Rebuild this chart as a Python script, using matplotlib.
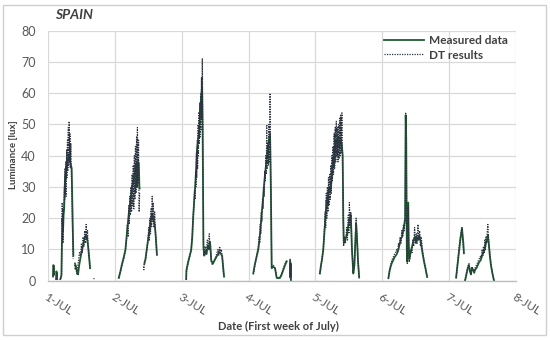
import numpy as np
import matplotlib.pyplot as plt
from matplotlib.patches import Rectangle

# hours since 1-JUL 00:00, luminance in lux (None = gap)
measured = [
    # 1-JUL
    (1.8, 1.5), (1.9, 5), (2.1, 4.8), (2.2, 2), (2.5, None),
    (2.9, 0.5), (3.0, 3), (3.2, 2.5), (3.3, 0.5), (3.8, None),
    (4.4, 0.5), (4.8, 1.5), (5.0, 12), (5.2, 20), (5.4, 16), (5.6, 21), (5.8, 23),
    (6.1, 33), (6.4, 35), (6.8, 36), (7.1, 38), (7.4, 40), (7.8, 39), (8.2, 37),
    (8.5, 36), (8.8, 22), (9.1, 8), (9.4, None),
    (9.7, 5.5), (10.1, 4), (10.5, 3), (10.8, 2), (11.2, 5), (11.6, 7), (12.0, 9),
    (12.5, 11), (13.0, 13), (13.5, 14.5), (14.0, 14), (14.4, 11), (14.8, 7), (15.1, 4),
    (20.0, None),
    # 2-JUL
    (25.4, 0.9), (26.0, 3), (26.6, 5.5), (27.2, 7.5), (27.8, 10), (28.3, 15), (29.0, 21.5),
    (29.5, 25), (30.1, 30), (30.7, 32), (31.3, 35.5), (31.8, 37.5), (32.0, 30), (32.1, 37.5),
    (32.4, 38), (32.6, 37.5), (32.8, 30), (32.9, 29.5), (33.5, None),
    (34.6, 5.4), (35.0, 7), (35.6, 11), (36.2, 15), (36.8, 19), (37.3, 21.5), (37.8, 20),
    (38.3, 18), (38.7, 14), (39.1, 8.3), (45.0, None),
    # 3-JUL
    (49.6, 0.5), (49.7, 3.4), (50.3, 6), (50.9, 8), (51.4, 9.8), (51.8, 14), (52.1, 20),
    (52.5, 26), (52.9, 31), (53.2, 36), (53.5, 42), (53.8, 44), (54.1, 47), (54.4, 50),
    (54.7, 55), (55.0, 59), (55.3, 62), (55.5, 50), (55.7, 20), (55.8, 10.5), (56.1, 8),
    (56.5, 9.5), (56.9, 8.5), (57.3, 11), (57.7, 10), (58.1, 12.5), (58.3, 11), (58.6, 6.5),
    (59.2, 5.5), (59.8, 6.5), (60.4, 7.5), (61.0, 8.5), (61.6, 9.2), (62.1, 8.5), (62.5, 8),
    (63.2, 1.3), (68.0, None),
    # 4-JUL
    (73.7, 2.4), (74.2, 5), (74.7, 7), (75.1, 8.5), (75.5, 10), (75.9, 13), (76.3, 17),
    (76.7, 21.5), (77.1, 25), (77.5, 30), (77.9, 34), (78.4, 38), (78.9, 43), (79.3, 45),
    (79.7, 47), (80.0, 30), (80.3, 4), (80.8, 4.5), (81.5, 4), (82.1, 0.9), (82.7, 0.8),
    (83.3, 0.9), (83.9, 2), (84.5, 3.5), (85.1, 5), (85.7, 6.2), (86.3, None),
    (86.9, 6.5), (87.0, 1), (87.1, 5.5), (87.2, 0), (92.0, None),
    # 5-JUL
    (97.6, 2.4), (98.0, 5), (98.4, 7), (98.8, 9.8), (99.2, 15), (99.6, 20), (100.0, 25.8),
    (100.3, 24), (100.6, 28), (101.0, 30), (101.4, 29), (101.8, 32), (102.1, 36), (102.4, 39),
    (102.7, 37), (103.0, 42), (103.4, 45), (103.8, 44), (104.2, 46), (104.6, 43), (105.0, 45),
    (105.4, 44), (105.8, 40), (106.0, 20), (106.2, 12), (106.6, 13), (107.2, 14.4),
    (107.7, 17), (108.2, 19.7), (108.7, 21), (109.1, 10), (109.6, 2.4), (110.0, 5),
    (110.3, 12), (110.6, 18.4), (110.9, 14), (111.3, 6), (111.7, 1), (116.0, None),
    # 6-JUL
    (122.2, 0.9), (122.6, 3), (123.0, 4.5), (123.4, 5.6), (123.9, 6.5), (124.4, 7.5),
    (125.2, 8.5), (125.8, 10), (126.3, 12), (126.7, 13.5), (127.1, 14), (127.5, 16),
    (127.9, 18), (128.2, 20), (128.4, 53), (128.6, 45), (128.8, 10), (129.0, 6), (129.2, 14),
    (129.3, 25), (129.5, 12), (129.7, 7), (130.1, 9), (130.7, 11), (131.2, 13), (131.7, 14),
    (132.1, 12), (132.5, 14), (132.8, 13), (133.3, 14.5), (133.9, 12), (134.4, 9),
    (135.0, 6), (135.5, 4), (136.1, 1.2), (140.0, None),
    # 7-JUL
    (146.5, 1), (147.0, 5), (147.5, 9), (148.0, 13), (148.4, 15.5), (148.6, 16.8),
    (148.9, 14), (149.1, 12), (149.3, 8.8), (149.5, None),
    (149.7, 0), (150.2, 2), (150.7, 4), (151.1, 5), (151.5, 3), (151.8, 2), (152.2, 4),
    (152.6, 3.5), (153.0, 2.5), (153.3, 3.5), (153.8, 4), (154.3, 5), (154.8, 6),
    (155.3, 6.5), (155.8, 8), (156.3, 9), (156.8, 10), (157.2, 12), (157.6, 13),
    (157.9, 14.6), (158.2, 12), (158.6, 8), (159.0, 5), (159.5, 2.5), (160.1, 0),
]

dt_results = [
    # 1-JUL
    (1.8, 1), (1.9, 4.5), (2.1, 4), (2.2, 1.5), (2.5, None),
    (3.0, 0.5), (3.1, 2.5), (3.3, 2), (3.8, None),
    (4.5, 0.5), (4.9, 2), (5.0, 14), (5.1, 25), (5.2, 13), (5.3, 23), (5.4, 12), (5.5, 22),
    (5.7, 25), (5.9, 30), (6.0, 26), (6.1, 36), (6.2, 28), (6.4, 38), (6.5, 27), (6.7, 42),
    (6.8, 33), (7.0, 45), (7.1, 35), (7.3, 49), (7.4, 37), (7.6, 51), (7.7, 38), (7.9, 47),
    (8.0, 36), (8.2, 44), (8.4, 35), (8.7, 20), (9.0, 7), (9.3, None),
    (9.6, 5), (9.8, 3.5), (10.0, 5), (10.3, 2), (10.6, 4), (11.0, 7), (11.3, 9), (11.7, 8),
    (12.0, 12), (12.3, 9), (12.6, 14), (12.9, 11), (13.2, 16), (13.5, 12), (13.7, 18),
    (13.9, 13), (14.2, 16), (14.4, 11), (14.8, 8), (15.1, 4), (15.8, None),
    (16.4, 0.8), (16.6, 0.5), (20.0, None),
    # 2-JUL
    (25.4, 0.8), (26.0, 2.8), (26.6, 5), (27.2, 7), (27.8, 9.5), (28.2, 13), (28.5, 18),
    (28.8, 14), (29.0, 24), (29.2, 18), (29.4, 27), (29.6, 21), (29.8, 30), (30.0, 22),
    (30.2, 34), (30.4, 24), (30.6, 37), (30.8, 23), (31.0, 40), (31.2, 26), (31.4, 43),
    (31.6, 28), (31.8, 46), (32.0, 30), (32.1, 49), (32.3, 31), (32.5, 45), (32.7, 22),
    (32.9, 28), (33.5, None),
    (34.3, 4.5), (34.4, 3.5), (34.6, 6), (35.0, 6.5), (35.5, 10), (35.9, 13), (36.2, 17),
    (36.4, 13), (36.6, 20), (36.8, 15), (37.0, 23), (37.2, 17), (37.4, 27), (37.6, 19),
    (37.8, 25), (38.0, 17), (38.3, 22), (38.7, 13), (39.1, 8), (45.0, None),
    # 3-JUL
    (49.6, 0.4), (49.7, 3), (50.3, 5.5), (50.9, 8), (51.4, 10), (51.8, 15), (52.1, 21),
    (52.4, 24), (52.6, 29), (52.8, 26), (53.0, 35), (53.1, 30), (53.3, 41), (53.4, 33),
    (53.6, 45), (53.7, 36), (53.9, 50), (54.0, 40), (54.2, 54), (54.3, 44), (54.5, 57),
    (54.6, 46), (54.8, 60), (54.9, 48), (55.1, 65), (55.2, 52), (55.4, 71), (55.5, 58),
    (55.7, 25), (55.8, 12), (56.1, 8), (56.4, 11), (56.8, 9), (57.2, 13), (57.5, 10),
    (57.9, 15), (58.1, 11), (58.4, 9), (58.6, 6), (59.0, 5), (59.5, 6.5), (60.0, 7),
    (60.5, 8.5), (61.0, 10), (61.3, 8), (61.6, 11), (61.9, 9), (62.2, 10), (62.5, 8),
    (63.1, 1.5), (68.0, None),
    # 4-JUL
    (73.7, 2), (74.2, 4.5), (74.7, 7), (75.1, 9), (75.5, 11), (75.8, 14), (76.0, 12),
    (76.2, 18), (76.4, 15), (76.6, 22), (76.8, 19), (77.0, 26), (77.2, 23), (77.4, 30),
    (77.6, 27), (77.8, 35), (78.0, 32), (78.2, 40), (78.4, 34), (78.5, 50), (78.7, 36),
    (78.9, 44), (79.1, 37), (79.3, 50), (79.5, 38), (79.7, 60), (79.9, 40), (80.1, 20),
    (80.3, 4.5), (80.8, 5), (81.5, 4), (82.1, 1), (82.7, 1), (83.3, 1.2), (83.9, 2.5),
    (84.5, 4), (85.1, 5.5), (85.7, 6.5), (86.3, None),
    (86.9, 7), (87.0, 1.5), (87.1, 6), (87.2, 0), (92.0, None),
    # 5-JUL
    (97.6, 2), (98.0, 4.5), (98.4, 7.5), (98.8, 10), (99.2, 16), (99.5, 22), (99.7, 17),
    (99.9, 28), (100.1, 20), (100.3, 30), (100.5, 22), (100.7, 33), (100.9, 24), (101.1, 34),
    (101.3, 26), (101.5, 37), (101.7, 28), (101.9, 40), (102.1, 32), (102.3, 43),
    (102.5, 34), (102.7, 47), (102.9, 36), (103.1, 49), (103.3, 38), (103.5, 51),
    (103.7, 40), (103.9, 49), (104.1, 38), (104.3, 50), (104.5, 39), (104.7, 52),
    (104.9, 40), (105.1, 53), (105.3, 41), (105.5, 53.7), (105.7, 38), (105.9, 22),
    (106.1, 11), (106.4, 14), (106.8, 12), (107.2, 17), (107.5, 13), (107.8, 21),
    (108.0, 15), (108.2, 25), (108.4, 17), (108.7, 22), (109.1, 11), (109.6, 2),
    (110.0, 5.5), (110.3, 13), (110.6, 20), (110.9, 15), (111.3, 6.5), (111.7, 1),
    (116.0, None),
    # 6-JUL
    (122.2, 0.5), (122.6, 3.5), (123.0, 5), (123.4, 6.5), (123.9, 7.5), (124.4, 8.5),
    (124.8, 9), (125.2, 10), (125.5, 9), (125.8, 12), (126.1, 11), (126.4, 14), (126.7, 12),
    (127.0, 16), (127.3, 14), (127.6, 18), (127.9, 16), (128.2, 21), (128.4, 53.6),
    (128.6, 40), (128.8, 12), (129.0, 5.5), (129.3, 24), (129.5, 11), (129.7, 6),
    (130.1, 8), (130.4, 10), (130.7, 9), (131.0, 13), (131.3, 11), (131.6, 17), (131.9, 12),
    (132.2, 15), (132.5, 12), (132.8, 18), (133.1, 13), (133.4, 16), (133.7, 11), (134.0, 14),
    (134.4, 10), (135.0, 6.5), (135.5, 4), (136.1, 1), (140.0, None),
    # 7-JUL
    (146.5, 0.8), (147.0, 5.5), (147.5, 10), (148.0, 14), (148.4, 16), (148.6, 17),
    (148.9, 13), (149.1, 11), (149.3, 8.5), (149.5, None),
    (149.7, 0), (150.2, 2.5), (150.7, 4.5), (151.1, 5.5), (151.5, 3), (151.8, 2), (152.2, 4.5),
    (152.6, 3.5), (153.0, 3), (153.3, 4), (153.8, 5), (154.3, 6), (154.8, 7), (155.3, 8),
    (155.6, 7), (155.8, 10), (156.1, 8), (156.3, 11), (156.6, 9), (156.8, 13), (157.0, 10),
    (157.2, 14), (157.5, 12), (157.7, 16), (157.9, 18), (158.2, 13), (158.6, 9), (159.0, 5.5),
    (159.5, 2.5), (160.1, 0),
]

day_labels = ['1-JUL', '2-JUL', '3-JUL', '4-JUL', '5-JUL', '6-JUL', '7-JUL', '8-JUL']
y_ticks = [0, 10, 20, 30, 40, 50, 60, 70, 80]


def split(series):
    hours = np.array([h for h, _ in series], dtype=float)
    lux = np.array([np.nan if v is None else v for _, v in series], dtype=float)
    return hours, lux


plt.rcParams['font.family'] = ['Lato', 'DejaVu Sans']
text_grey = '#595959'

fig = plt.figure(figsize=(5.5, 3.4), dpi=100)
fig.patches.append(Rectangle((3 / 550, 5 / 340), 543 / 550, 330 / 340,
                             transform=fig.transFigure, fill=False,
                             edgecolor='#cfcfcf', linewidth=1))
ax = fig.add_axes([48 / 550, 59.3 / 340, 468 / 550, 250 / 340])

mh, mv = split(measured)
dh, dv = split(dt_results)
ax.plot(mh, mv, color='#215a32', linewidth=1.3, label='Measured data')
ax.plot(dh, dv, color='#2b3340', linewidth=0.9, linestyle=(0, (1, 1)), label='DT results')

ax.set_xlim(0, 168)
ax.set_ylim(0, 80)
ax.set_xticks(np.arange(len(day_labels)) * 24)
ax.set_xticklabels(day_labels, rotation=-32, ha='left', va='top',
                   rotation_mode='anchor', fontsize=8.5, color=text_grey)
ax.set_yticks(y_ticks)
ax.set_yticklabels([str(t) for t in y_ticks], fontsize=9, color=text_grey)
ax.tick_params(axis='both', length=0)
ax.tick_params(axis='x', pad=8)
ax.tick_params(axis='y', pad=9)
ax.grid(color='#d9d9d9', linewidth=0.9)
ax.set_axisbelow(True)
for side in ['top', 'right', 'left']:
    ax.spines[side].set_visible(False)
ax.spines['bottom'].set_color('#bfbfbf')
ax.spines['bottom'].set_linewidth(1)

leg = ax.legend(loc='upper right', bbox_to_anchor=(1.005, 1.025), frameon=False,
                handlelength=3.4, handletextpad=0.4, labelspacing=0.3,
                prop={'weight': 'bold', 'size': 8.5})
for t in leg.get_texts():
    t.set_color('#404040')

fig.text(55 / 550, 1 - 15 / 340, 'SPAIN', fontsize=10, fontweight='bold',
         fontstyle='italic', color='#404040', va='center', ha='left')
fig.text(13 / 550, 1 - 155 / 340, 'Luminance [lux]', fontsize=7, fontweight='bold',
         color='#404040', rotation=90, va='center', ha='center')
fig.text(278 / 550, 1 - 326 / 340, 'Date (First week of July)', fontsize=8,
         fontweight='bold', color='#404040', va='center', ha='center')

fig.savefig('out.png', dpi=100)
